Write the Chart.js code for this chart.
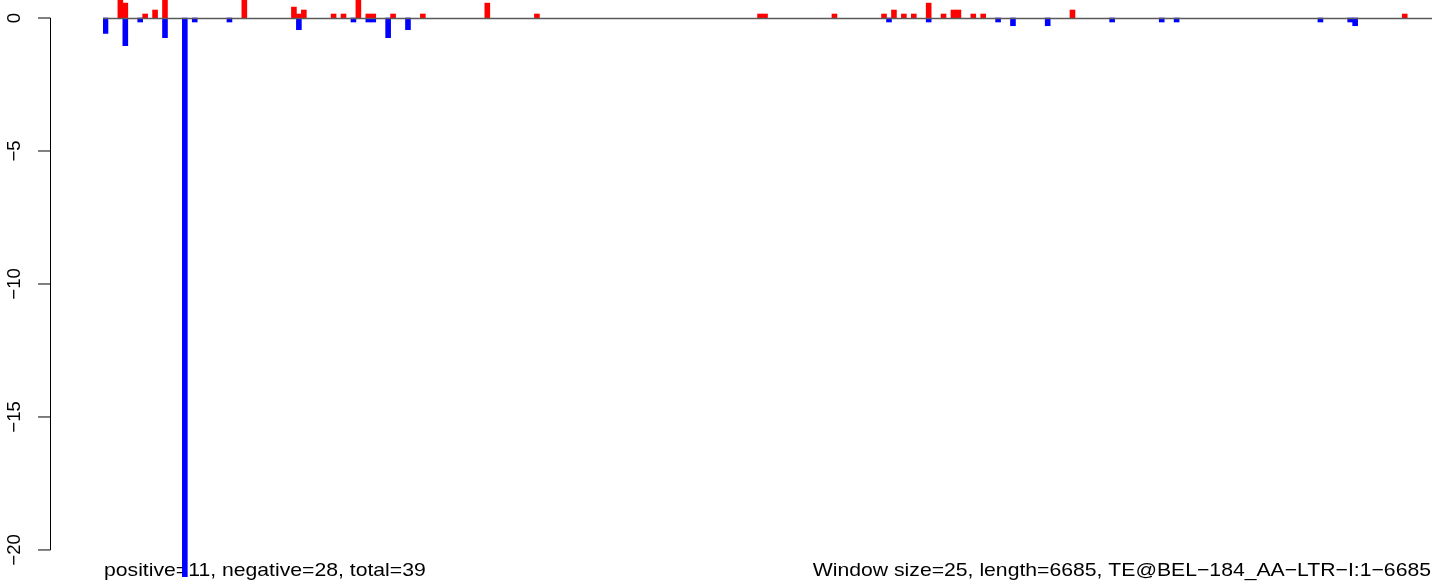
<!DOCTYPE html>
<html>
<head>
<meta charset="utf-8">
<script src="https://cdn.jsdelivr.net/npm/chart.js@4.4.1/dist/chart.umd.min.js"></script>
<style>
  body { margin: 0; background: #fff; }
  #wrap { width: 1444px; height: 588px; }
</style>
</head>
<body>
<div id="wrap"><canvas id="c" width="1444" height="588"></canvas></div>
<script>
// windows of 25 bp along 6685 bp -> 268 windows
const windowCount = 268;
const windowSize = 25;

// positive (red) bars: window index and height
const posWindows = [3, 4, 8, 10, 12, 28, 38, 39, 40, 46, 48, 51, 53, 54, 58, 64, 77, 87,
  132, 133, 147, 157, 159, 161, 163, 166, 169, 171, 172, 175, 177, 195, 262];
const posValues = [0.9, 0.56, 0.15, 0.3, 0.9, 0.9, 0.41, 0.15, 0.3, 0.15, 0.15, 0.9, 0.15, 0.15, 0.15, 0.15, 0.56, 0.15,
  0.15, 0.15, 0.15, 0.15, 0.3, 0.15, 0.15, 0.56, 0.15, 0.3, 0.3, 0.15, 0.15, 0.3, 0.15];

// negative (blue) bars
const negWindows = [0, 4, 7, 12, 16, 18, 25, 39, 50, 53, 54, 57, 61,
  158, 166, 180, 183, 190, 203, 213, 216, 245, 251, 252];
const negValues = [-0.58, -1.04, -0.15, -0.74, -21.0, -0.15, -0.15, -0.44, -0.15, -0.15, -0.15, -0.74, -0.44,
  -0.15, -0.15, -0.15, -0.29, -0.29, -0.15, -0.15, -0.15, -0.15, -0.15, -0.29];

const yTicks = [0, -5, -10, -15, -20];
const leftNote = "positive=11, negative=28, total=39";
const rightNote = "Window size=25, length=6685, TE@BEL\u2212184_AA\u2212LTR\u2212I:1\u22126685";

const labels = [];
for (let i = 0; i < windowCount; i++) labels.push(i * windowSize + 1);

function fill(idx, vals) {
  const out = new Array(windowCount).fill(null);
  idx.forEach((w, k) => { out[w] = vals[k]; });
  return out;
}

// R-like axis, zero line and notes
const rDecor = {
  id: "rDecor",
  beforeDatasetsDraw(chart) {
    const ctx = chart.ctx;
    ctx.save();
    ctx.fillStyle = "#000";
    ctx.font = "19px 'Liberation Sans', Arial, sans-serif";
    ctx.textBaseline = "alphabetic";
    ctx.save();
    ctx.translate(104, 576);
    ctx.scale(1.115, 1);
    ctx.textAlign = "left";
    ctx.fillText(leftNote, 0, 0);
    ctx.restore();
    ctx.save();
    ctx.translate(1431, 576);
    ctx.scale(1.115, 1);
    ctx.textAlign = "right";
    ctx.fillText(rightNote, 0, 0);
    ctx.restore();
    ctx.restore();
  },
  afterDatasetsDraw(chart) {
    const ctx = chart.ctx;
    const y = chart.scales.y;
    const x = chart.scales.x;
    ctx.save();
    // zero line across the windows
    const y0 = Math.round(y.getPixelForValue(0)) + 0.5;
    ctx.strokeStyle = "#5a5a5a";
    ctx.lineWidth = 1.4;
    ctx.beginPath();
    ctx.moveTo(x.left, y0);
    ctx.lineTo(x.right, y0);
    ctx.stroke();

    // left axis
    const axisX = 50.5;
    const top = y.getPixelForValue(yTicks[0]);
    const bot = y.getPixelForValue(yTicks[yTicks.length - 1]);
    ctx.strokeStyle = "#000";
    ctx.lineWidth = 1;
    ctx.beginPath();
    ctx.moveTo(axisX, top);
    ctx.lineTo(axisX, bot);
    yTicks.forEach(t => {
      const py = y.getPixelForValue(t);
      ctx.moveTo(axisX, py);
      ctx.lineTo(38, py);
    });
    ctx.stroke();

    ctx.fillStyle = "#000";
    ctx.font = "18.5px 'Liberation Sans', Arial, sans-serif";
    ctx.textAlign = "center";
    ctx.textBaseline = "alphabetic";
    yTicks.forEach(t => {
      const py = y.getPixelForValue(t);
      ctx.save();
      ctx.translate(20, py);
      ctx.scale(1.02, 1);
      ctx.rotate(-Math.PI / 2);
      ctx.fillText(String(t).replace("-", "\u2212"), 0, 0);
      ctx.restore();
    });
    ctx.restore();
  }
};

new Chart(document.getElementById("c"), {
  type: "bar",
  data: {
    labels: labels,
    datasets: [
      {
        label: "positive",
        data: fill(posWindows, posValues),
        backgroundColor: "#ff0000",
        borderWidth: 0,
        grouped: false,
        barPercentage: 1,
        categoryPercentage: 1
      },
      {
        label: "negative",
        data: fill(negWindows, negValues),
        backgroundColor: "#0000ff",
        borderWidth: 0,
        grouped: false,
        barPercentage: 1,
        categoryPercentage: 1
      }
    ]
  },
  options: {
    responsive: false,
    animation: false,
    layout: { padding: { left: 103, right: 12, top: 0, bottom: 0 } },
    plugins: { legend: { display: false }, tooltip: { enabled: false } },
    scales: {
      x: { display: false, grid: { display: false } },
      y: { display: false, min: -21.43, max: 0.677, grid: { display: false } }
    }
  },
  plugins: [rDecor]
});
</script>
</body>
</html>
